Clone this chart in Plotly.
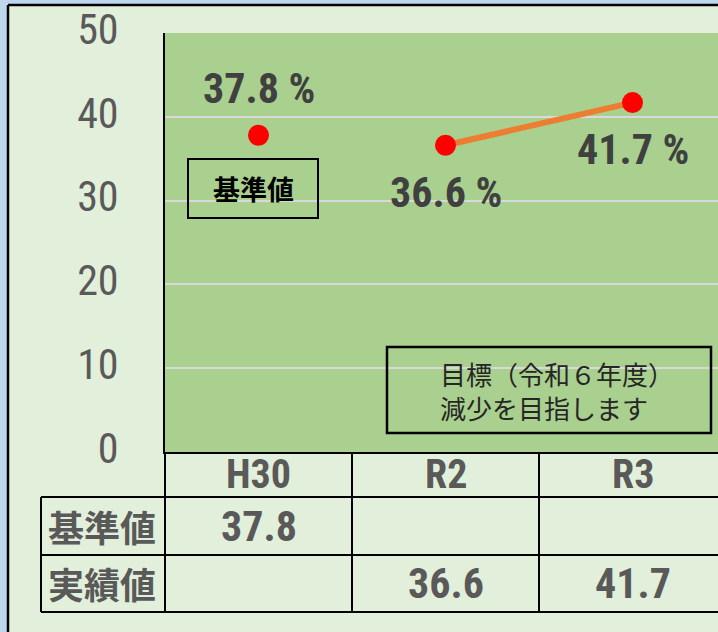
import plotly.graph_objects as go

# ---- data ----
categories = ["H30", "R2", "R3"]
baseline = [37.8, None, None]
actual = [None, 36.6, 41.7]
row_labels = ["基準値", "実績値"]
y_ticks = [0, 10, 20, 30, 40, 50]
baseline_tag = "基準値"
target_lines = ["目標（令和６年度）", "減少を目指します"]

# ---- layout geometry ----
W, H = 718, 632
L, T, R_, B = 165, 33, 0, 180
PW = W - L - R_
PH = H - T - B
CAT_W = 187  # px per category


def px(x):
    return (x - L) / PW


def py(y):
    return (H - B - y) / PH


NARROW = "Liberation Sans Narrow, Roboto Condensed, Noto Sans CJK JP, sans-serif"
CJK = "Noto Sans CJK JP, sans-serif"
GREY = "#595959"
DARK = "#404040"

xi = list(range(len(categories)))

fig = go.Figure()
fig.add_trace(go.Scatter(
    x=xi, y=baseline, mode="markers",
    marker=dict(color="#FF0000", size=21, line=dict(width=0)),
    showlegend=False, cliponaxis=False))
fig.add_trace(go.Scatter(
    x=xi, y=actual, mode="lines+markers",
    line=dict(color="#ED7D31", width=6),
    marker=dict(color="#FF0000", size=21, line=dict(width=0)),
    showlegend=False, cliponaxis=False))

ann = []
# data labels
for i, v in enumerate(baseline):
    if v is not None:
        ann.append(dict(x=i, y=v, xref="x", yref="y", text=f"{v:.1f} %", showarrow=False,
                        xanchor="center", yanchor="middle", yshift=47,
                        font=dict(family=NARROW, size=42, color=DARK, weight="bold")))
for i, v in enumerate(actual):
    if v is not None:
        ann.append(dict(x=i, y=v, xref="x", yref="y", text=f"{v:.1f} %", showarrow=False,
                        xanchor="center", yanchor="middle", yshift=-47,
                        font=dict(family=NARROW, size=42, color=DARK, weight="bold")))

# table header (categories)
for i, c in enumerate(categories):
    ann.append(dict(x=i, y=py(474), xref="x", yref="paper", text=c, showarrow=False,
                    xanchor="center", yanchor="middle",
                    font=dict(family=NARROW, size=40, color=GREY, weight="bold")))
# table values
rows_y = [526, 583]
for r, series in enumerate([baseline, actual]):
    for i, v in enumerate(series):
        if v is not None:
            ann.append(dict(x=i, y=py(rows_y[r]), xref="x", yref="paper", text=f"{v:.1f}",
                            showarrow=False, xanchor="center", yanchor="middle",
                            font=dict(family=NARROW, size=42, color=GREY, weight="bold")))
    ann.append(dict(x=px(102), y=py(rows_y[r]), xref="paper", yref="paper", text=row_labels[r],
                    showarrow=False, xanchor="center", yanchor="middle",
                    font=dict(family=CJK, size=36, color=GREY, weight="bold")))

# tag box text
ann.append(dict(x=px(253), y=py(189), xref="paper", yref="paper", text=baseline_tag,
                showarrow=False, xanchor="center", yanchor="middle",
                font=dict(family=CJK, size=27, color="#000000", weight="bold")))
# target box text
ann.append(dict(x=px(438), y=py(390), xref="paper", yref="paper", text="<br>".join(target_lines),
                showarrow=False, xanchor="left", yanchor="middle", align="left",
                font=dict(family=CJK, size=26, color="#262626")))

line_black = dict(color="#000000", width=2)
shapes = [
    # light-blue outer strips
    dict(type="rect", xref="paper", yref="paper", x0=px(-20), x1=px(8), y0=py(700), y1=py(-20),
         fillcolor="#BDD7EE", line=dict(width=0), layer="below"),
    dict(type="rect", xref="paper", yref="paper", x0=px(-20), x1=px(800), y0=py(5), y1=py(-20),
         fillcolor="#BDD7EE", line=dict(width=0), layer="below"),
    # outer black border
    dict(type="line", xref="paper", yref="paper", x0=px(8), x1=px(8), y0=py(5), y1=py(700),
         line=dict(color="#000000", width=2.5)),
    dict(type="line", xref="paper", yref="paper", x0=px(8), x1=px(800), y0=py(5), y1=py(5),
         line=dict(color="#000000", width=2.5)),
    # table lines
    dict(type="line", xref="paper", yref="paper", x0=px(41), x1=px(800), y0=py(497), y1=py(497), line=line_black),
    dict(type="line", xref="paper", yref="paper", x0=px(41), x1=px(800), y0=py(555), y1=py(555), line=line_black),
    dict(type="line", xref="paper", yref="paper", x0=px(41), x1=px(800), y0=py(612), y1=py(612), line=line_black),
    dict(type="line", xref="paper", yref="paper", x0=px(41), x1=px(41), y0=py(497), y1=py(612), line=line_black),
    dict(type="line", xref="paper", yref="paper", x0=px(165), x1=px(165), y0=py(452), y1=py(612), line=line_black),
    # tag box and target box
    dict(type="rect", xref="paper", yref="paper", x0=px(188), x1=px(318), y0=py(159), y1=py(218),
         line=line_black, fillcolor="rgba(0,0,0,0)"),
    dict(type="rect", xref="paper", yref="paper", x0=px(387), x1=px(711), y0=py(347), y1=py(433),
         line=dict(color="#000000", width=2.5), fillcolor="rgba(0,0,0,0)"),
]
# category dividers in table
for i in range(len(categories) - 1):
    shapes.append(dict(type="line", xref="x", yref="paper", x0=i + 0.5, x1=i + 0.5,
                       y0=py(452), y1=py(612), line=line_black))

fig.update_layout(
    width=W, height=H,
    margin=dict(l=L, r=R_, t=T, b=B, pad=0),
    paper_bgcolor="#E2EFDA",
    plot_bgcolor="#A9D08E",
    annotations=ann,
    shapes=shapes,
    showlegend=False,
    xaxis=dict(range=[-0.5, -0.5 + PW / CAT_W], showgrid=False, zeroline=False,
               showticklabels=False, showline=True, linecolor="#000000", linewidth=2,
               fixedrange=True),
    yaxis=dict(range=[0, 50], tickvals=y_ticks, showgrid=True, gridcolor="#D9D9D9", gridwidth=1.5,
               zeroline=False, showline=True, linecolor="#000000", linewidth=2,
               ticks="", ticklabelstandoff=36, ticklabelshift=-4, automargin=False,
               tickfont=dict(family=NARROW, size=42, color=GREY), fixedrange=True),
)

fig.write_html("out.html", config={"displayModeBar": False},
               post_script="document.body.style.margin='0';document.body.style.overflow='hidden';")
